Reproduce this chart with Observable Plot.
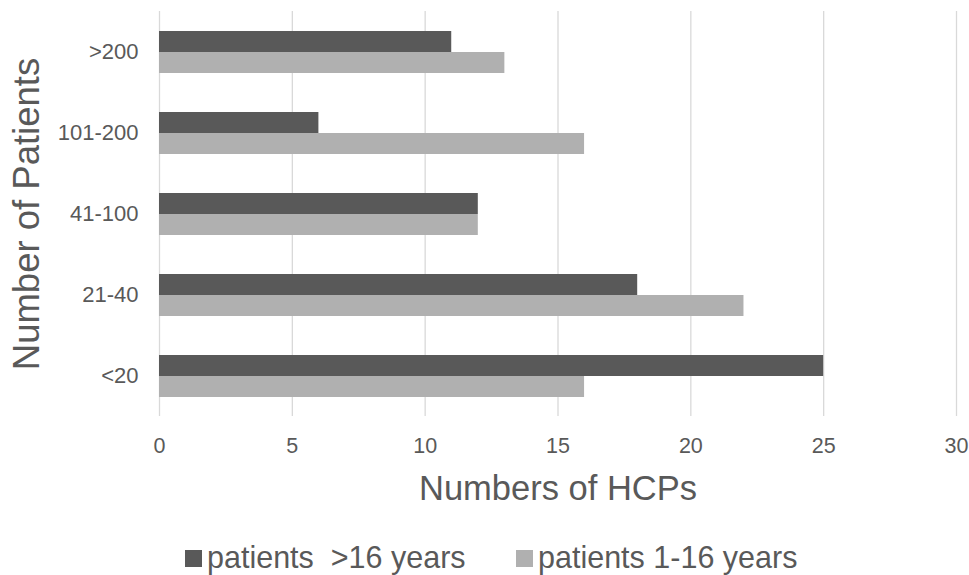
<!DOCTYPE html>
<html>
<head>
<meta charset="utf-8">
<script src="https://cdn.jsdelivr.net/npm/d3@7"></script>
<script src="https://cdn.jsdelivr.net/npm/@observablehq/plot@0.6"></script>
<style>
  html, body { margin: 0; padding: 0; background: #fff; }
  #wrap { width: 969px; height: 575px; overflow: hidden; font-family: "Liberation Sans", Arial, sans-serif; color: #595959; }
  #legend { position: relative; height: 50px; }
  .item { position: absolute; top: 17px; display: flex; align-items: center; font-size: 30.5px; line-height: 1; white-space: pre; }
  .swatch { width: 17px; height: 17px; margin-right: 5px; margin-top: 3px; }
</style>
</head>
<body>
<div id="wrap">
  <div id="chart"></div>
  <div id="legend"></div>
</div>
<script>
// Patient-load bands, listed top to bottom
const categories = [">200", "101-200", "41-100", "21-40", "<20"];
// Two age groups
const seriesNames = ["patients  >16 years", "patients 1-16 years"];
// Number of HCPs per band, for each age group
const olderValues = [11, 6, 12, 18, 25];
const youngerValues = [13, 16, 12, 22, 16];
// Axis ticks
const xTicks = [0, 5, 10, 15, 20, 25, 30];
const seriesColors = ["#595959", "#b0b0b0"];
const legendLeft = [185, 516];

const rows = categories.flatMap((c, i) => [
  {category: c, series: seriesNames[0], value: olderValues[i]},
  {category: c, series: seriesNames[1], value: youngerValues[i]}
]);

const chart = Plot.plot({
  width: 969,
  height: 525,
  marginTop: 11,
  marginBottom: 109,
  marginLeft: 159,
  marginRight: 13,
  style: {fontFamily: "'Liberation Sans', Arial, sans-serif", color: "#595959", background: "#fff", overflow: "visible"},
  x: {domain: [0, 30]},
  y: {domain: seriesNames, paddingInner: 0, paddingOuter: 0.9, axis: null},
  fy: {domain: categories, padding: 0},
  color: {domain: seriesNames, range: seriesColors},
  marks: [
    Plot.gridX(xTicks, {stroke: "#d9d9d9", strokeOpacity: 1, strokeWidth: 1.3}),
    Plot.barX(rows, {fy: "category", y: "series", x: "value", fill: "series"}),
    Plot.axisX(xTicks, {
      tickSize: 0, tickPadding: 21, fontSize: 21.5, fill: "#595959",
      label: "Numbers of HCPs", labelAnchor: "center", labelOffset: 83, labelArrow: "none"
    }),
    Plot.axisFy({
      anchor: "left", tickSize: 0, tickPadding: 21, fontSize: 22, fill: "#595959",
      label: "Number of Patients", labelAnchor: "center", labelOffset: 146, labelArrow: "none"
    })
  ]
});
document.getElementById("chart").appendChild(chart);

// Larger type for the axis titles
const xl = chart.querySelector('[aria-label="x-axis label"]');
if (xl) xl.setAttribute("font-size", 34.5);
const yl = chart.querySelector('[aria-label="fy-axis label"]');
if (yl) yl.setAttribute("font-size", 36.5);

// Legend
const legend = document.getElementById("legend");
seriesNames.forEach((name, i) => {
  const item = document.createElement("div");
  item.className = "item";
  item.style.left = legendLeft[i] + "px";
  const sw = document.createElement("span");
  sw.className = "swatch";
  sw.style.background = seriesColors[i];
  const tx = document.createElement("span");
  tx.textContent = name;
  item.append(sw, tx);
  legend.appendChild(item);
});
</script>
</body>
</html>
